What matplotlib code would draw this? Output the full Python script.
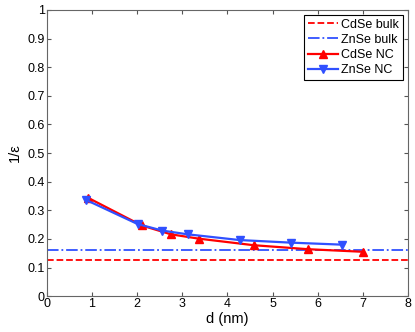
import numpy as np
import matplotlib
matplotlib.use('Agg')
import matplotlib.pyplot as plt

plt.rcParams['font.family'] = ['Liberation Sans', 'DejaVu Sans']

# data
d_cdse = [0.92, 2.10, 2.75, 3.36, 4.58, 5.79, 7.00]
inv_eps_cdse = [0.343, 0.247, 0.216, 0.201, 0.178, 0.164, 0.155]
d_znse = [0.87, 2.01, 2.56, 3.12, 4.27, 5.40, 6.53]
inv_eps_znse = [0.336, 0.252, 0.229, 0.216, 0.196, 0.187, 0.180]
bulk_cdse = 0.128
bulk_znse = 0.161

fig = plt.figure(figsize=(4.15, 3.32), dpi=100)
ax = fig.add_axes([0.113, 0.108, 0.870, 0.862])

ax.axhline(bulk_cdse, color='red', ls='--', lw=1.3, label='CdSe bulk')
ax.axhline(bulk_znse, color='#3050ff', ls='-.', lw=1.3, label='ZnSe bulk')
ax.plot(d_cdse, inv_eps_cdse, color='red', lw=1.6, marker='^', ms=6,
        mew=1.0, label='CdSe NC')
ax.plot(d_znse, inv_eps_znse, color='#3050ff', lw=1.6, marker='v', ms=6,
        mew=1.0, label='ZnSe NC')

ax.set_xlim(0, 8)
ax.set_ylim(0, 1)
ax.set_xticks(range(0, 9))
ax.set_yticks(np.arange(0, 1.01, 0.1))
ax.set_yticklabels(['0', '0.1', '0.2', '0.3', '0.4', '0.5', '0.6', '0.7', '0.8', '0.9', '1'])
ax.tick_params(direction='in', top=True, right=True, labelsize=9, length=3,
               pad=1.5, color='#555555')
for s in ax.spines.values():
    s.set_color('#666666')
ax.set_xlabel('d (nm)', fontsize=10.5, labelpad=1)
ax.set_ylabel('1/ε', fontsize=10.5, labelpad=4)

leg = ax.legend(loc='upper right', fontsize=9, fancybox=False, framealpha=1,
                edgecolor='black', borderaxespad=0.4, handlelength=2.4,
                labelspacing=0.25, borderpad=0.3, handletextpad=0.3)
leg.get_frame().set_linewidth(0.8)

fig.savefig('out.png', dpi=100)
